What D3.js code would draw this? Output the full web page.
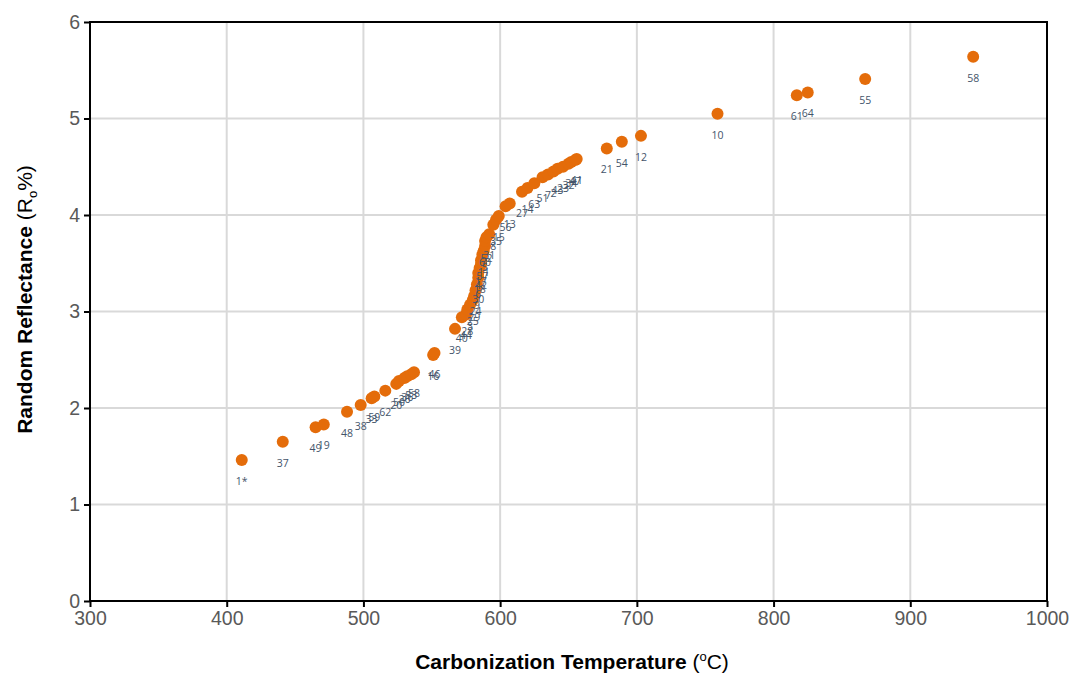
<!DOCTYPE html>
<html>
<head>
<meta charset="utf-8">
<script src="https://cdn.jsdelivr.net/npm/d3@7"></script>
<style>
    body { margin: 0; background: #fff; }
    svg { display: block; }
</style>
</head>
<body>
<div id="chart"></div>
<script>
'use strict';

// sample numbers, carbonization temperature (°C), random reflectance (Ro %)
const sampleLabels = [
    '1*', '37', '49', '19', '48', '38', '33', '59', '62', '20', '50', '26', '36', '53', '58',
    '16', '46', '39', '40', '44', '28', '3', '25', '29', '24', '9', '30', '6', '18', '42',
    '17', '57', '11', '5', '60', '52', '31', '8', '35', '15', '56', '13', '27', '14', '63',
    '51', '7', '2', '43', '23', '32', '34', '47', '41', '21', '54', '12', '10', '61', '64',
    '55', '58'
];
const temperatures = [
    411, 441, 465, 471, 488, 498, 506, 508, 516, 524, 526, 530, 532, 535, 537,
    551, 552, 567, 572, 575, 576, 578, 580, 581, 582, 583, 584, 584, 585, 586,
    586, 587, 588, 589, 589, 590, 592, 595, 597, 599, 604, 607, 616, 620, 625,
    631, 635, 639, 642, 646, 650, 652, 655, 656, 678, 689, 703, 759, 817, 825,
    867, 946
];
const reflectance = [
    1.46, 1.65, 1.80, 1.83, 1.96, 2.03, 2.10, 2.12, 2.18, 2.25, 2.28, 2.31, 2.33, 2.35, 2.37,
    2.55, 2.57, 2.82, 2.94, 2.97, 3.02, 3.07, 3.12, 3.16, 3.22, 3.28, 3.35, 3.40, 3.45, 3.49,
    3.53, 3.59, 3.63, 3.68, 3.73, 3.77, 3.80, 3.90, 3.95, 3.99, 4.09, 4.12, 4.24, 4.28, 4.33,
    4.39, 4.42, 4.45, 4.48, 4.50, 4.53, 4.55, 4.57, 4.58, 4.69, 4.76, 4.82, 5.05, 5.24, 5.27,
    5.41, 5.64
];
const xTicks = [300, 400, 500, 600, 700, 800, 900, 1000];
const yTicks = [0, 1, 2, 3, 4, 5, 6];

const config = {
    width: 1072,
    height: 673,
    margin: { top: 22, right: 25, bottom: 72, left: 90 },
    dotColor: '#e46c0a',
    labelColor: '#44546a',
    gridColor: '#d9d9d9'
};

const data = sampleLabels.map((name, i) => ({
    name: name,
    t: temperatures[i],
    r: reflectance[i]
}));

const { width, height, margin } = config;
const innerW = width - margin.left - margin.right;
const innerH = height - margin.top - margin.bottom;

const svg = d3.select('#chart').append('svg')
    .attr('width', width)
    .attr('height', height);

const g = svg.append('g')
    .attr('transform', `translate(${margin.left},${margin.top})`);

const x = d3.scaleLinear().domain([300, 1000]).range([0, innerW]);
const y = d3.scaleLinear().domain([0, 6]).range([innerH, 0]);

// gridlines
g.append('g').selectAll('line')
    .data(xTicks.slice(1, -1))
    .join('line')
    .attr('x1', d => x(d)).attr('x2', d => x(d))
    .attr('y1', 0).attr('y2', innerH)
    .attr('stroke', config.gridColor)
    .attr('stroke-width', 2);

g.append('g').selectAll('line')
    .data(yTicks.slice(1, -1))
    .join('line')
    .attr('x1', 0).attr('x2', innerW)
    .attr('y1', d => y(d)).attr('y2', d => y(d))
    .attr('stroke', config.gridColor)
    .attr('stroke-width', 2);

// axes
const xAxis = g.append('g')
    .attr('transform', `translate(0,${innerH})`)
    .call(d3.axisBottom(x).tickValues(xTicks).tickFormat(d3.format('d'))
        .tickSize(6).tickSizeOuter(0).tickPadding(4));

const yAxis = g.append('g')
    .call(d3.axisLeft(y).tickValues(yTicks).tickFormat(d3.format('d'))
        .tickSize(6).tickSizeOuter(0).tickPadding(4));

[xAxis, yAxis].forEach((ax) => {
    ax.select('.domain').remove();
    ax.selectAll('line').attr('stroke', '#000').attr('stroke-width', 2);
    ax.selectAll('text')
        .attr('fill', '#595959')
        .style('font-family', 'Liberation Sans, Arial, sans-serif')
        .style('font-size', '19.5px');
});

// frame
g.append('rect')
    .attr('x', 0).attr('y', 0)
    .attr('width', innerW).attr('height', innerH)
    .attr('fill', 'none')
    .attr('stroke', '#000')
    .attr('stroke-width', 2);

// points
g.append('g').selectAll('circle')
    .data(data)
    .join('circle')
    .attr('cx', d => x(d.t))
    .attr('cy', d => y(d.r))
    .attr('r', 6)
    .attr('fill', config.dotColor);

// data labels below each point
g.append('g').selectAll('text')
    .data(data)
    .join('text')
    .attr('x', d => x(d.t))
    .attr('y', d => y(d.r) + 25)
    .attr('text-anchor', 'middle')
    .attr('fill', config.labelColor)
    .style('font-family', 'Open Sans, sans-serif')
    .style('font-size', '10.5px')
    .text(d => d.name);

// axis titles
const xTitle = svg.append('text')
    .attr('x', 572)
    .attr('y', 669)
    .attr('text-anchor', 'middle')
    .style('font-family', 'Liberation Sans, Arial, sans-serif')
    .style('font-size', '21px')
    .attr('fill', '#000');
xTitle.append('tspan').attr('font-weight', 'bold').text('Carbonization Temperature ');
xTitle.append('tspan').text('(');
xTitle.append('tspan').style('font-size', '13px').attr('dy', -8).text('o');
xTitle.append('tspan').attr('dy', 8).text('C)');

const yTitle = svg.append('text')
    .attr('transform', `translate(32,${margin.top + innerH / 2 - 12}) rotate(-90)`)
    .attr('text-anchor', 'middle')
    .style('font-family', 'Liberation Sans, Arial, sans-serif')
    .style('font-size', '21px')
    .attr('fill', '#000');
yTitle.append('tspan').attr('font-weight', 'bold').text('Random Reflectance ');
yTitle.append('tspan').text('(R');
yTitle.append('tspan').style('font-size', '13px').attr('dy', 5).text('o');
yTitle.append('tspan').attr('dy', -5).text('%)');
</script>
</body>
</html>
